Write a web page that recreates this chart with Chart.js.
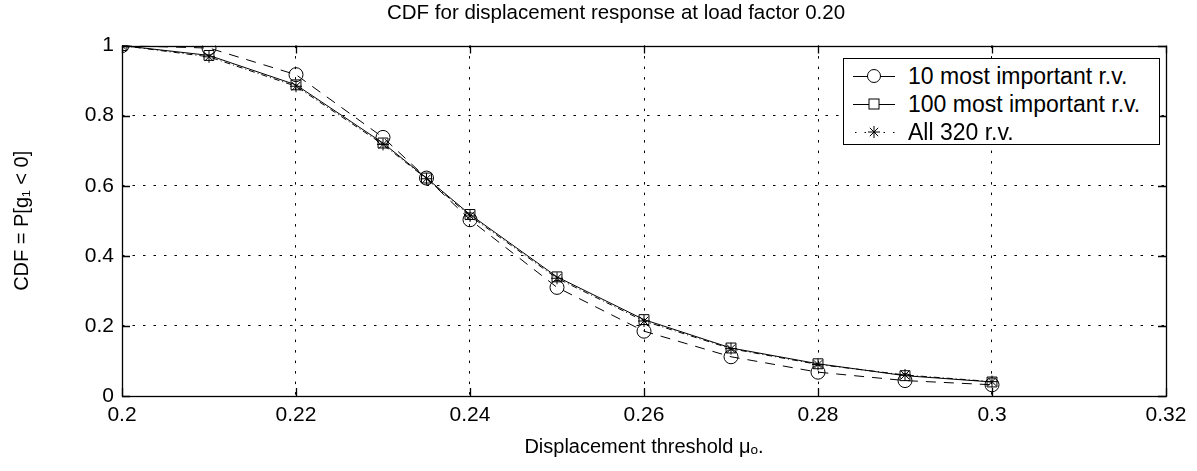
<!DOCTYPE html>
<html>
<head>
<meta charset="utf-8">
<script src="https://cdn.jsdelivr.net/npm/chart.js@4.4.1/dist/chart.umd.min.js"></script>
<style>
  html, body { margin: 0; padding: 0; background: #fff; }
  #wrap { position: relative; width: 1197px; height: 471px; }
  #legend { position: absolute; left: 843px; top: 58px; width: 317px; height: 87px;
    border: 1px solid #000; background: #fff; box-sizing: border-box;
    font-family: "Liberation Sans", Arial, sans-serif; font-size: 23px; color: #000; padding-top: 3px; }
  .row { display: flex; align-items: center; height: 28px; white-space: nowrap; }
  .row svg { margin-left: 9px; margin-right: 13px; flex: none; }
</style>
</head>
<body>
<div id="wrap">
  <canvas id="c" width="1197" height="471"></canvas>
  <div id="legend"></div>
</div>
<script>
const xValues = [0.2, 0.21, 0.22, 0.23, 0.235, 0.24, 0.25, 0.26, 0.27, 0.28, 0.29, 0.3];
const top10 = [1.0, 0.993, 0.917, 0.738, 0.622, 0.503, 0.31, 0.185, 0.112, 0.068, 0.044, 0.032];
const top100 = [1.0, 0.972, 0.888, 0.722, 0.622, 0.518, 0.34, 0.218, 0.137, 0.092, 0.058, 0.04];
const all320 = [1.0, 0.968, 0.884, 0.718, 0.620, 0.514, 0.336, 0.214, 0.135, 0.090, 0.060, 0.041];
const seriesNames = ["10 most important r.v.", "100 most important r.v.", "All 320 r.v."];
const xTicks = [0.2, 0.22, 0.24, 0.26, 0.28, 0.3, 0.32];
const yTicks = [0, 0.2, 0.4, 0.6, 0.8, 1];

const FONT = "'Liberation Sans', Arial, sans-serif";
const toPts = arr => arr.map((v, i) => ({x: xValues[i], y: v}));

const styles = [
  {pointStyle: 'circle', pointRadius: 7, borderDash: [10, 8], legendDash: []},
  {pointStyle: 'rect', pointRadius: 7, borderDash: [], legendDash: []},
  {pointStyle: 'star', pointRadius: 6, borderDash: [6, 3, 1, 3], legendDash: [1.5, 8]}
];
const seriesData = [top10, top100, all320];

const datasets = seriesData.map((d, i) => ({
  label: seriesNames[i],
  data: toPts(d),
  borderColor: '#000',
  borderWidth: 1,
  borderDash: styles[i].borderDash,
  pointStyle: styles[i].pointStyle,
  pointRadius: styles[i].pointRadius,
  pointBorderColor: '#000',
  pointBackgroundColor: 'rgba(0,0,0,0)',
  pointBorderWidth: 1,
  tension: 0,
  fill: false,
  yAxisID: 'y'
}));

const frame = {
  id: 'frame',
  afterDatasetsDraw(chart) {
    const {ctx, chartArea: a, scales} = chart;
    ctx.save();
    ctx.strokeStyle = '#000';
    ctx.lineWidth = 1.3;
    ctx.setLineDash([]);
    ctx.strokeRect(Math.round(a.left) + 0.5, Math.round(a.top) + 0.5, Math.round(a.right - a.left), Math.round(a.bottom - a.top));
    const L = 8;
    ctx.beginPath();
    xTicks.forEach(v => {
      const px = Math.round(scales.x.getPixelForValue(v)) + 0.5;
      ctx.moveTo(px, a.bottom); ctx.lineTo(px, a.bottom - L);
      ctx.moveTo(px, a.top); ctx.lineTo(px, a.top + L);
    });
    yTicks.forEach(v => {
      const py = Math.round(scales.y.getPixelForValue(v)) + 0.5;
      ctx.moveTo(a.left, py); ctx.lineTo(a.left + L, py);
      ctx.moveTo(a.right, py); ctx.lineTo(a.right - L, py);
    });
    ctx.stroke();
    ctx.restore();
  }
};

const gridDash = [2.5, 8];

new Chart(document.getElementById('c'), {
  type: 'line',
  data: { datasets },
  options: {
    responsive: false,
    animation: false,
    devicePixelRatio: 1,
    layout: { padding: { left: 35, right: 0, top: 0, bottom: 0 } },
    plugins: {
      legend: { display: false },
      tooltip: { enabled: false },
      title: {
        display: true,
        text: 'CDF for displacement response at load factor 0.20',
        color: '#000',
        font: { family: FONT, size: 20.5, weight: 'normal' },
        padding: { top: 1, bottom: 20 }
      }
    },
    scales: {
      x: {
        type: 'linear', min: 0.2, max: 0.32,
        afterBuildTicks: s => { s.ticks = xTicks.map(v => ({value: v})); },
        afterFit: s => { s.height = 75; },
        ticks: {
          color: '#000', font: { family: FONT, size: 21 }, padding: 7,
          callback: v => String(parseFloat(v.toFixed(3)))
        },
        grid: {
          color: ctx => (ctx.tick && (ctx.tick.value === 0.2 || ctx.tick.value === 0.32)) ? 'rgba(0,0,0,0)' : '#000',
          lineWidth: 1, drawTicks: false, tickLength: 0
        },
        border: { display: false, dash: gridDash },
        title: {
          display: true, text: 'Displacement threshold \u03bc\u2092.',
          color: '#000', font: { family: FONT, size: 20 }, padding: { top: 4, bottom: 12 }
        }
      },
      y: {
        type: 'linear', min: 0, max: 1, position: 'left',
        afterBuildTicks: s => { s.ticks = yTicks.map(v => ({value: v})); },
        afterFit: s => { s.width = 87; },
        ticks: {
          color: '#000', font: { family: FONT, size: 21 }, padding: 8,
          callback: v => String(parseFloat(v.toFixed(2)))
        },
        grid: {
          color: ctx => (ctx.tick && (ctx.tick.value === 0 || ctx.tick.value === 1)) ? 'rgba(0,0,0,0)' : '#000',
          lineWidth: 1, drawTicks: false, tickLength: 0
        },
        border: { display: false, dash: gridDash },
        title: {
          display: true, text: 'CDF = P[g\u2081 < 0]',
          color: '#000', font: { family: FONT, size: 20 }, padding: { top: -25, bottom: 4 }
        }
      },
      yRight: {
        type: 'linear', min: 0, max: 1, position: 'right',
        afterFit: s => { s.width = 31; },
        ticks: { display: false },
        grid: { display: false, drawTicks: false },
        border: { display: false }
      }
    }
  },
  plugins: [frame]
});

// HTML legend built from the dataset names and styles
const legendEl = document.getElementById('legend');
function markerSvg(style) {
  const cx = 21, cy = 10;
  if (style === 'circle') return `<circle cx="${cx}" cy="${cy}" r="6.5" fill="#fff" stroke="#000" stroke-width="1"/>`;
  if (style === 'rect') return `<rect x="${cx-5}" y="${cy-5}" width="10" height="10" fill="#fff" stroke="#000" stroke-width="1"/>`;
  return `<path d="M${cx-6} ${cy}H${cx+6}M${cx} ${cy-6}V${cy+6}M${cx-4.2} ${cy-4.2}L${cx+4.2} ${cy+4.2}M${cx-4.2} ${cy+4.2}L${cx+4.2} ${cy-4.2}" stroke="#000" stroke-width="1"/>`;
}
seriesNames.forEach((name, i) => {
  const dash = styles[i].legendDash.length ? `stroke-dasharray="${styles[i].legendDash.join(' ')}" stroke-dashoffset="-2"` : '';
  const row = document.createElement('div');
  row.className = 'row';
  row.innerHTML = `<svg width="42" height="20"><line x1="0" y1="10.5" x2="42" y2="10.5" stroke="#000" stroke-width="1" ${dash}/>${markerSvg(styles[i].pointStyle)}</svg><span>${name}</span>`;
  legendEl.appendChild(row);
});
</script>
</body>
</html>
